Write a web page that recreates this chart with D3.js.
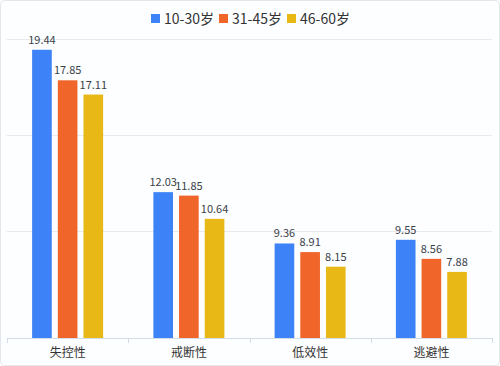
<!DOCTYPE html>
<html><head><meta charset="utf-8">
<script src="https://cdn.jsdelivr.net/npm/d3@7/dist/d3.min.js"></script>
<style>body{margin:0;background:#fff;}svg{display:block;font-family:"Noto Sans CJK SC","Noto Sans",sans-serif;}</style>
</head><body><svg id="c" width="500" height="366"></svg>
<script>
const categories = ["失控性","戒断性","低效性","逃避性"];
const seriesNames = ["10-30岁","31-45岁","46-60岁"];
const s1 = [19.44, 12.03, 9.36, 9.55];
const s2 = [17.85, 11.85, 8.91, 8.56];
const s3 = [17.11, 10.64, 8.15, 7.88];
const colors = ["#3D82F6","#F0652A","#E8B916"];
const gridValues = [10, 15, 20];
const yMin = 4.44, yMax = 20;

const series = [s1, s2, s3];
const svg = d3.select("#c");
svg.append("rect").attr("x",0.5).attr("y",0.5).attr("width",499).attr("height",365)
  .attr("rx",4).attr("fill","#fdfeff").attr("stroke","#e3e7ec");

const x = d3.scaleBand().domain(categories).range([7, 492]).padding(0);
const y = d3.scaleLinear().domain([yMin, yMax]).range([338, 39]);
const sub = d3.scaleBand().domain(d3.range(3)).range([-35.5, 35.5]).paddingInner(0.235);

// grid
svg.append("g").selectAll("line").data(gridValues).join("line")
  .attr("x1", 7).attr("x2", 492)
  .attr("y1", d => Math.round(y(d)) + 0.5).attr("y2", d => Math.round(y(d)) + 0.5)
  .attr("stroke", "#e6eaef");

// bars
const g = svg.append("g");
series.forEach((vals, si) => {
  g.append("g").selectAll("rect").data(vals).join("rect")
    .attr("x", (d, i) => x(categories[i]) + x.bandwidth()/2 + sub(si))
    .attr("width", sub.bandwidth())
    .attr("y", d => y(d))
    .attr("height", d => y(yMin) - y(d))
    .attr("fill", colors[si]);
  g.append("g").selectAll("text").data(vals).join("text")
    .attr("x", (d, i) => x(categories[i]) + x.bandwidth()/2 + sub(si) + sub.bandwidth()/2)
    .attr("y", d => y(d) - 6)
    .attr("text-anchor", "middle")
    .attr("font-size", 11).attr("fill", "#3a3f48")
    .text(d => d.toFixed(2));
});

// x axis
const xAxis = svg.append("g").attr("transform", "translate(0,338)")
  .call(d3.axisBottom(x).tickSize(0).tickPadding(10));
xAxis.select(".domain").attr("stroke", "#d3dde8");
xAxis.selectAll("text").attr("font-size", 12).attr("fill", "#333")
  .attr("font-family", "'Noto Sans CJK SC',sans-serif");
const bounds = categories.map(c => x(c)).concat([x.range()[1]]);
svg.append("g").selectAll("line").data(bounds).join("line")
  .attr("x1", d => Math.round(d) + 0.5).attr("x2", d => Math.round(d) + 0.5)
  .attr("y1", 338).attr("y2", 343).attr("stroke", "#d3dde8");

// legend
const legendX = [151, 219, 287];
const lg = svg.append("g");
seriesNames.forEach((n, i) => {
  lg.append("rect").attr("x", legendX[i]).attr("y", 14).attr("width", 9).attr("height", 9)
    .attr("fill", colors[i]);
  lg.append("text").attr("x", legendX[i] + 13).attr("y", 23.5)
    .attr("font-size", 14).attr("fill", "#333").text(n);
});
</script></body></html>
